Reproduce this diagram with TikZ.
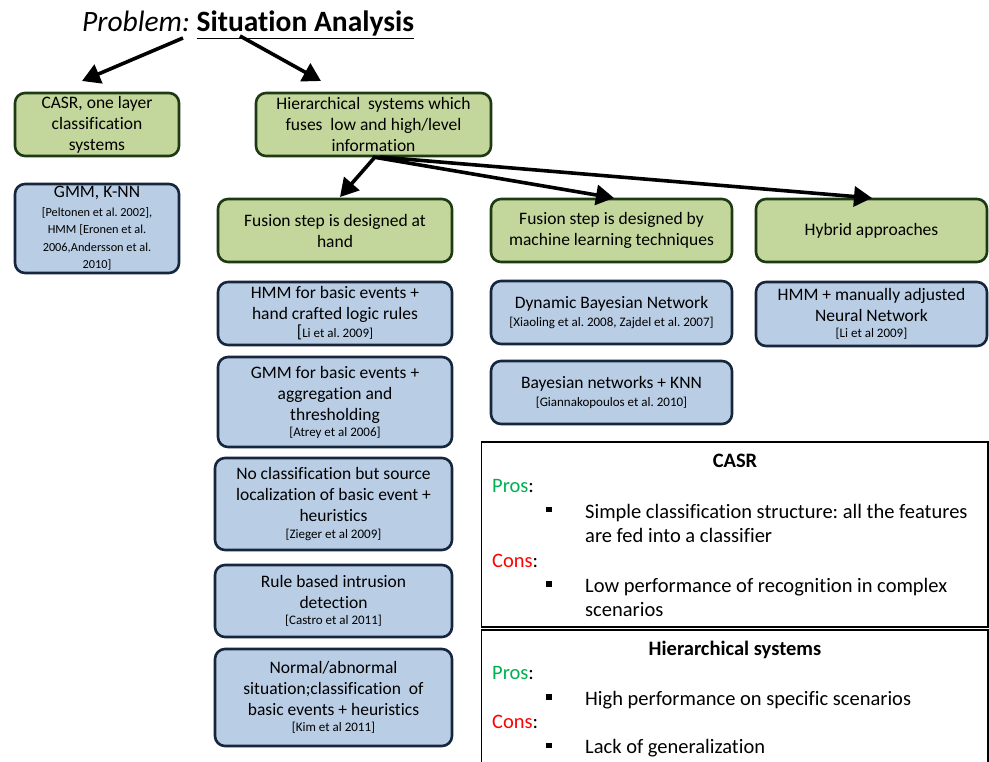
\documentclass[tikz,border=0pt]{standalone}
\usepackage{fontspec}
\setmainfont[Ligatures={NoCommon}]{Carlito}
\usetikzlibrary{arrows.meta}
\definecolor{gfill}{RGB}{195,214,155}
\definecolor{gdraw}{RGB}{30,58,18}
\definecolor{bfill}{RGB}{185,205,229}
\definecolor{bdraw}{RGB}{22,38,60}
\definecolor{prosg}{RGB}{0,176,80}
\definecolor{consr}{RGB}{255,0,0}
\newcommand{\mainf}{\fontsize{17.5}{21}\selectfont}
\newcommand{\citef}{\fontsize{13}{15.5}\selectfont}
\newcommand{\refsf}{\fontsize{12.3}{17.5}\selectfont}
\newcommand{\tabf}{\fontsize{20.5}{25}\selectfont}
\frenchspacing
\begin{document}
\begin{tikzpicture}[x=1pt,y=-1pt,
 box/.style={rounded corners=10pt, line width=2.6pt, align=center, inner sep=0pt, font=\mainf},
 gbox/.style={box, fill=gfill, draw=gdraw},
 bbox/.style={box, fill=bfill, draw=bdraw},
 arr/.style={line width=3.6pt, -{Triangle[length=18pt,width=20pt]}},
 tline/.style={line width=1.3pt},
 ttext/.style={anchor=base west, font=\tabf, inner sep=0pt},
 bul/.style={fill=black, minimum size=5.5pt, inner sep=0pt},
]
\useasboundingbox (0,0) rectangle (989,762);

% title
\node[anchor=base west, inner sep=0pt, font=\fontsize{29.5}{34}\selectfont] (title) at (82,32)
  {\textit{Problem:} \underline{\textbf{Situation Analysis}}};

% top level
\node[gbox, minimum width=164pt, minimum height=63pt] (casr) at (97,124.5)
  {CASR, one layer\\classification\\systems};
\node[gbox, minimum width=235pt, minimum height=63pt] (hier) at (373.5,124.5)
  {Hierarchical\ \ systems which\\fuses\ \ low and high/level\\information};

\node[bbox, minimum width=164pt, minimum height=89pt, font=\refsf] (gmm) at (97,228.5)
  {{\mainf GMM, K-NN}\\[1pt][Peltonen et al. 2002],\\HMM [Eronen et al.\\2006,Andersson et al.\\2010]};

% second level
\node[gbox, minimum width=234pt, minimum height=63pt] (hand) at (335,230.5)
  {Fusion step is designed at\\hand};
\node[gbox, minimum width=241pt, minimum height=63pt] (ml) at (611.5,230.5)
  {Fusion step is designed by\\machine learning techniques};
\node[gbox, minimum width=231pt, minimum height=63pt] (hyb) at (871.5,230.5)
  {Hybrid approaches};

% hand column
\node[bbox, minimum width=234pt, minimum height=63pt] (h1) at (335,313.5)
  {HMM for basic events +\\hand crafted logic rules\\[-3pt]{\mainf[}{\citef Li et al. 2009]}};
\node[bbox, minimum width=234pt, minimum height=90pt] (h2) at (335,402)
  {GMM for basic events +\\aggregation and\\thresholding\\[-5pt]{\citef [Atrey et al 2006]}};
\node[bbox, minimum width=237pt, minimum height=92pt] (h3) at (333.5,504)
  {No classification but source\\localization of basic event +\\heuristics\\[-4pt]{\citef [Zieger et al 2009]}};
\node[bbox, minimum width=237pt, minimum height=72pt] (h4) at (333.5,601)
  {Rule based intrusion\\detection\\[-5pt]{\citef [Castro et al 2011]}};
\node[bbox, minimum width=237pt, minimum height=97pt] (h5) at (333.5,697.5)
  {Normal/abnormal\\situation;classification\ \ of\\basic events + heuristics\\[-5pt]{\citef [Kim et al 2011]}};

% ml column
\node[bbox, minimum width=241pt, minimum height=63pt] (m1) at (611.5,312.5)
  {Dynamic Bayesian Network\\[-3pt]{\citef [Xiaoling et al. 2008, Zajdel et al. 2007]}};
\node[bbox, minimum width=241pt, minimum height=63pt] (m2) at (611.5,392.5)
  {Bayesian networks + KNN\\[-3pt]{\citef [Giannakopoulos et al. 2010]}};

% hybrid column
\node[bbox, minimum width=231pt, minimum height=64pt] (y1) at (871.5,314)
  {HMM + manually adjusted\\Neural Network\\[-5pt]{\citef [Li et al 2009]}};

% arrows
\coordinate (ta) at (183,38);
\coordinate (tb) at (240,36);
\coordinate (ca) at (82,81);
\coordinate (cb) at (321,81);
\coordinate (ha) at (375,157);
\coordinate (hb) at (373,157);
\coordinate (hc) at (380,157);
\coordinate (fa) at (340,197);
\coordinate (fb) at (614,198);
\coordinate (fc) at (872,198);
\draw[arr] (ta) -- (ca);
\draw[arr] (tb) -- (cb);
\draw[arr] (ha) -- (fa);
\draw[arr] (hb) -- (fb);
\draw[arr] (hc) -- (fc);

% tables
\draw[tline] (481.5,442) rectangle (988,627);
\draw[tline] (481.5,630) rectangle (988,770);

\node[anchor=base, font=\tabf\bfseries, inner sep=0pt] (t1h) at (735,467) {CASR};
\node[ttext] (t1p) at (492,492) {\textcolor{prosg}{Pros}:};
\node[bul] (t1b1) at (549,509.5) {};
\node[ttext] (t1p1) at (585,518) {Simple classification structure: all the features};
\node[ttext] (t1p2) at (585,542.5) {are fed into a classifier};
\node[ttext] (t1c) at (492,567) {\textcolor{consr}{Cons}:};
\node[bul] (t1b2) at (549,584) {};
\node[ttext] (t1c1) at (585,592) {Low performance of recognition in complex};
\node[ttext] (t1c2) at (585,616.5) {scenarios};

\node[anchor=base, font=\tabf\bfseries, inner sep=0pt] (t2h) at (735,655) {Hierarchical systems};
\node[ttext] (t2p) at (492,679) {\textcolor{prosg}{Pros}:};
\node[bul] (t2b1) at (549,697) {};
\node[ttext] (t2p1) at (585,705) {High performance on specific scenarios};
\node[ttext] (t2c) at (492,728) {\textcolor{consr}{Cons}:};
\node[bul] (t2b2) at (549,745.5) {};
\node[ttext] (t2c1) at (585,753) {Lack of generalization};
\end{tikzpicture}
\end{document}
